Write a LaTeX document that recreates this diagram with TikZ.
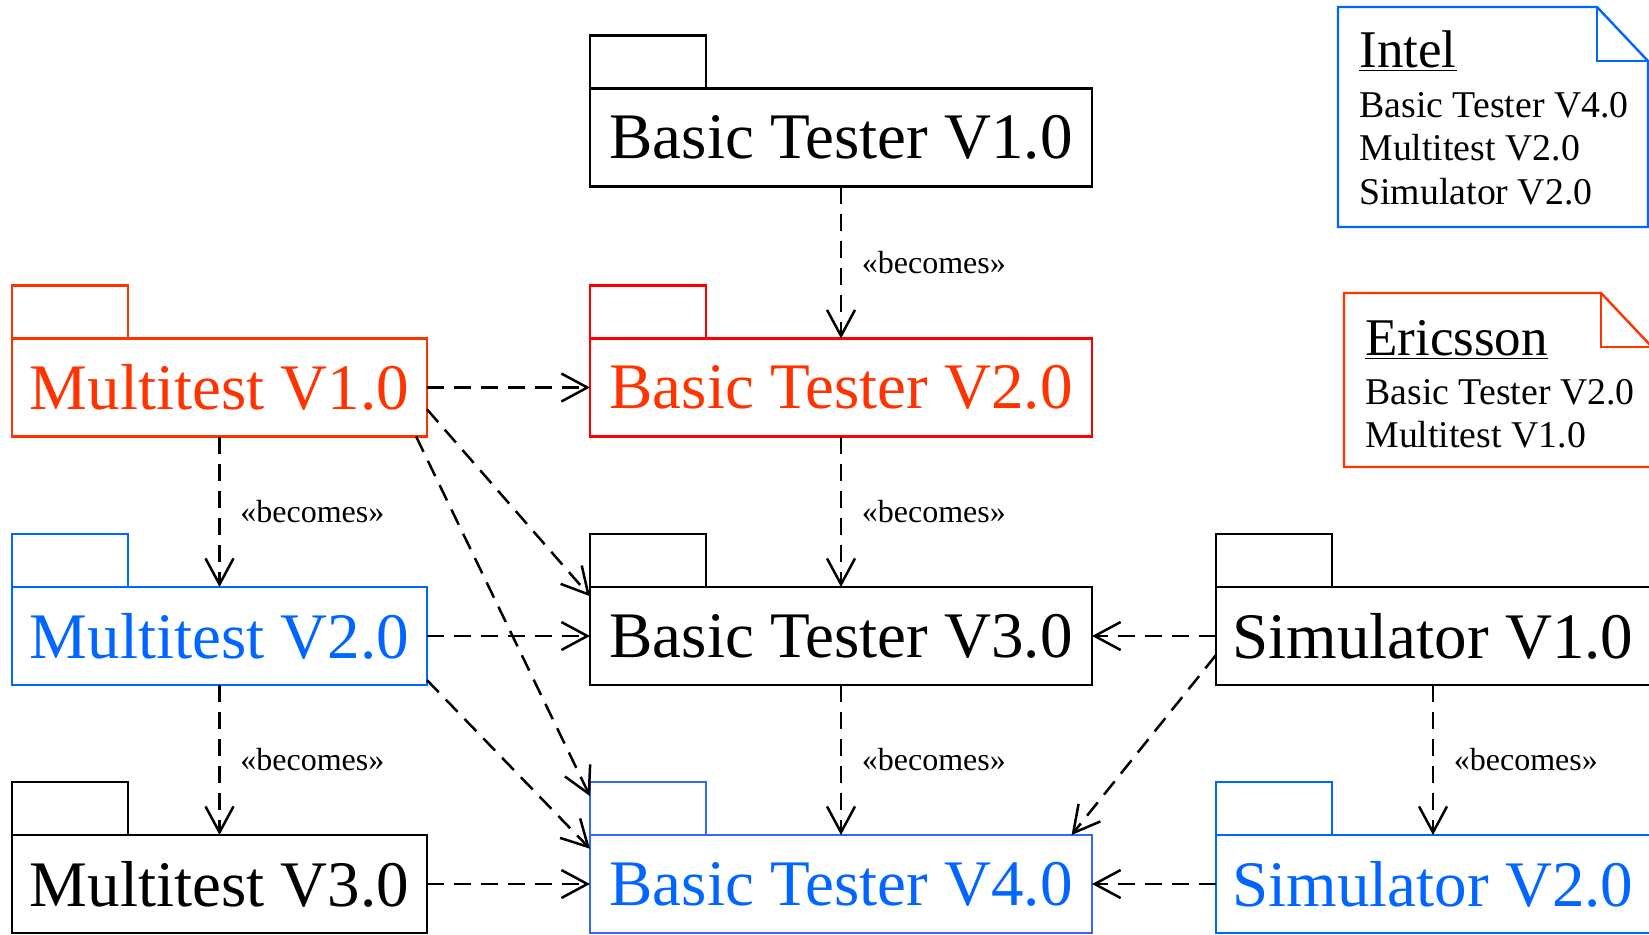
\documentclass[tikz,border=0pt]{standalone}
\usepackage{fontspec}
\setmainfont{Liberation Serif}
\usetikzlibrary{arrows.meta}

\definecolor{ericred}{HTML}{FF3300}
\definecolor{pkgred}{HTML}{FF0000}
\definecolor{intelblue}{HTML}{0066FF}
\definecolor{pkgblue}{HTML}{3366FF}

\begin{document}
\begin{tikzpicture}[x=0.5pt, y=-0.5pt,
        pkg/.style={draw, line width=1.2pt, minimum height=49pt, inner sep=0pt, outer sep=0pt, font=\fontsize{32.5}{36}\selectfont},
        shortbox/.style={pkg, minimum width=207.5pt},
        longbox/.style={pkg, minimum width=251pt},
        simbox/.style={pkg, minimum width=217pt},
        tab/.style={draw, line width=1.2pt, minimum width=58pt, minimum height=26.5pt, inner sep=0pt, outer sep=0pt, anchor=south west},
        dep/.style={-{Straight Barb[length=13pt, width=14pt]}, dash pattern=on 8.5pt off 5pt, line width=1.25pt},
        becomes/.style={right, xshift=6.5pt, font=\fontsize{16}{18}\selectfont},
        notetext/.style={anchor=base west, inner sep=0pt, font=\fontsize{18.9}{21}\selectfont},
        notehead/.style={anchor=base west, inner sep=0pt, font=\fontsize{26.5}{30}\selectfont}]
        \clip (0,0) rectangle (1649,934);

        % Packages
        \node[longbox] (bt1) at (841,137.5) {Basic Tester V1.0};
        \node[longbox, draw=pkgred, text=ericred] (bt2) at (841,387.5) {Basic Tester V2.0};
        \node[longbox] (bt3) at (841,636) {Basic Tester V3.0};
        \node[longbox, draw=pkgblue, text=intelblue] (bt4) at (841,884) {Basic Tester V4.0};
        \node[shortbox, draw=ericred, text=ericred] (mt1) at (219.5,387.5) {Multitest V1.0};
        \node[shortbox, draw=intelblue, text=intelblue] (mt2) at (219.5,636) {Multitest V2.0};
        \node[shortbox] (mt3) at (219.5,884) {Multitest V3.0};
        \node[simbox] (sim1) at (1433,636) {Simulator V1.0};
        \node[simbox, draw=intelblue, text=intelblue] (sim2) at (1433,884) {Simulator V2.0};

        % Tabs
        \node[tab] (bt1t) at (bt1.north west) {};
        \node[tab, draw=pkgred] (bt2t) at (bt2.north west) {};
        \node[tab] (bt3t) at (bt3.north west) {};
        \node[tab, draw=pkgblue] (bt4t) at (bt4.north west) {};
        \node[tab, draw=ericred] (mt1t) at (mt1.north west) {};
        \node[tab, draw=intelblue] (mt2t) at (mt2.north west) {};
        \node[tab] (mt3t) at (mt3.north west) {};
        \node[tab] (sim1t) at (sim1.north west) {};
        \node[tab, draw=intelblue] (sim2t) at (sim2.north west) {};

        % Becomes
        \draw[dep] (bt1) -- (bt2) node[midway, becomes] {«becomes»};
        \draw[dep] (bt2) -- (bt3) node[midway, becomes] {«becomes»};
        \draw[dep] (bt3) -- (bt4) node[midway, becomes] {«becomes»};
        \draw[dep] (mt1) -- (mt2) node[midway, becomes] {«becomes»};
        \draw[dep] (mt2) -- (mt3) node[midway, becomes] {«becomes»};
        \draw[dep] (sim1) -- (sim2) node[midway, becomes] {«becomes»};

        % Dependencies
        \draw[dep] (mt1) -- (bt2);
        \draw[dep] (mt1.-6) -- (bt3.171);
        \draw[dep] (mt1.-14.7) -- (bt4t.168);
        \draw[dep] (mt2) -- (bt3);
        \draw[dep] (mt2.-12) -- (bt4.172);
        \draw[dep] (mt3) -- (bt4);
        \draw[dep] (sim1) -- (bt3);
        \draw[dep] (sim1.185) -- (bt4.12);
        \draw[dep] (sim2) -- (bt4);

        % Notes
        \draw[intelblue, line width=1.2pt] (1338,7) -- (1597,7) -- (1648,61) -- (1648,227) -- (1338,227) -- cycle;
        \draw[intelblue, line width=1.2pt] (1597,7) -- (1597,61) -- (1648,61);
        \node[notehead] (intel) at (1359,67) {\underline{Intel}};
        \node[notetext] (intel1) at (1359,117) {Basic Tester V4.0};
        \node[notetext] (intel2) at (1359,160) {Multitest V2.0};
        \node[notetext] (intel3) at (1359,204) {Simulator V2.0};

        \draw[ericred, line width=1.2pt] (1344,293) -- (1601,293) -- (1652,347) -- (1652,467) -- (1344,467) -- cycle;
        \draw[ericred, line width=1.2pt] (1601,293) -- (1601,347) -- (1652,347);
        \node[notehead] (eric) at (1365,355) {\underline{Ericsson}};
        \node[notetext] (eric1) at (1365,404) {Basic Tester V2.0};
        \node[notetext] (eric2) at (1365,447) {Multitest V1.0};
    \end{tikzpicture}
\end{document}
